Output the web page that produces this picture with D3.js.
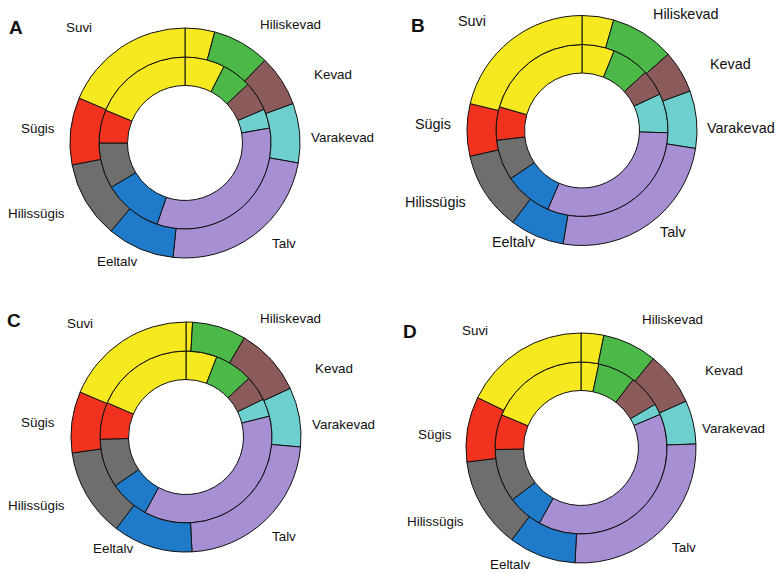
<!DOCTYPE html>
<html>
<head>
<meta charset="utf-8">
<script src="https://cdn.jsdelivr.net/npm/d3@7"></script>
<style>
  html, body { margin: 0; padding: 0; background: #ffffff; }
  svg { display: block; }
  text { font-family: "Liberation Sans", Arial, sans-serif; fill: #111; }
</style>
</head>
<body>
<svg id="chart" width="778" height="573"></svg>
<script>
// Segments clockwise from 12 o'clock (Suvi is split by the line at 12 o'clock)
const categories = ["Suvi", "Hiliskevad", "Kevad", "Varakevad", "Talv", "Eeltalv", "Hilissügis", "Sügis", "Suvi"];
const seasonColors = {
  "Suvi": "#f6e91f",
  "Hiliskevad": "#4cb848",
  "Kevad": "#8b5a5b",
  "Varakevad": "#6ecfcf",
  "Talv": "#a68fd3",
  "Eeltalv": "#1f7bc9",
  "Hilissügis": "#6e6e6e",
  "Sügis": "#f0321e"
};
const labelNames = ["Suvi", "Hiliskevad", "Kevad", "Varakevad", "Sügis", "Hilissügis", "Eeltalv", "Talv"];
const panelLetters = ["A", "B", "C", "D"];

// Angular share (degrees of the circle) of each segment
const outerA = [15, 29, 26, 30, 86, 34, 39, 34, 67];
const innerA = [27, 20, 20, 13, 119, 40, 31, 22.5, 67.5];
const outerB = [16, 32.5, 21.5, 29, 90.5, 27.5, 40, 26.5, 76.5];
const innerB = [22, 25.5, 17.5, 26.5, 112, 32.5, 27.5, 22.5, 74];
const outerC = [3.3, 27.2, 34.5, 30, 82, 40.3, 44.7, 31, 67];
const innerC = [21, 26, 17, 12, 132.5, 27, 33, 25, 66.5];
const outerD = [11.5, 27.5, 27, 22, 95, 34, 46, 33, 64];
const innerD = [12, 25.3, 22.2, 7.5, 142, 24, 36, 23.7, 67.3];

// Layout (positions only)
const panels = [
  { letter: "A", outer: outerA, inner: innerA, cx: 185, cy: 143, fs: 13.4,
    letterPos: [9, 34],
    labels: [[66,32],[260,29],[314,79],[311,142],[21,133],[8,218],[97,266],[272,248]] },
  { letter: "B", outer: outerB, inner: innerB, cx: 582, cy: 130.5, fs: 14.4,
    letterPos: [411, 32],
    labels: [[458,26],[653,19],[710,69],[707,133],[415,129],[405,207],[492,247],[660,237]] },
  { letter: "C", outer: outerC, inner: innerC, cx: 186, cy: 437, fs: 13.4,
    letterPos: [7, 327],
    labels: [[67,328],[260,323],[315,373],[312,429],[21,427],[8,510],[93,553],[272,541]] },
  { letter: "D", outer: outerD, inner: innerD, cx: 581, cy: 448, fs: 13.4,
    letterPos: [403, 338],
    labels: [[462,335],[642,324],[705,375],[702,433],[418,439],[407,526],[490,569],[672,552]] }
];

const r0 = 57.5, r1 = 86, r2 = 115;

const svg = d3.select("#chart");
const pie = d3.pie().sort(null).value(d => d.v);
const arcInner = d3.arc().innerRadius(r0).outerRadius(r1);
const arcOuter = d3.arc().innerRadius(r1).outerRadius(r2);

panels.forEach(p => {
  const g = svg.append("g").attr("transform", `translate(${p.cx},${p.cy})`);
  [[p.inner, arcInner], [p.outer, arcOuter]].forEach(([vals, arc]) => {
    const data = vals.map((v, i) => ({ v, cat: categories[i] }));
    g.append("g").selectAll("path")
      .data(pie(data))
      .join("path")
      .attr("d", arc)
      .attr("fill", d => seasonColors[d.data.cat])
      .attr("stroke", "#111")
      .attr("stroke-width", 1)
      .attr("stroke-linejoin", "round");
  });

  svg.append("text")
    .attr("x", p.letterPos[0]).attr("y", p.letterPos[1])
    .attr("font-size", 19).attr("font-weight", "bold")
    .text(p.letter);

  labelNames.forEach((name, i) => {
    svg.append("text")
      .attr("x", p.labels[i][0]).attr("y", p.labels[i][1])
      .attr("font-size", p.fs)
      .text(name);
  });
});
</script>
</body>
</html>
